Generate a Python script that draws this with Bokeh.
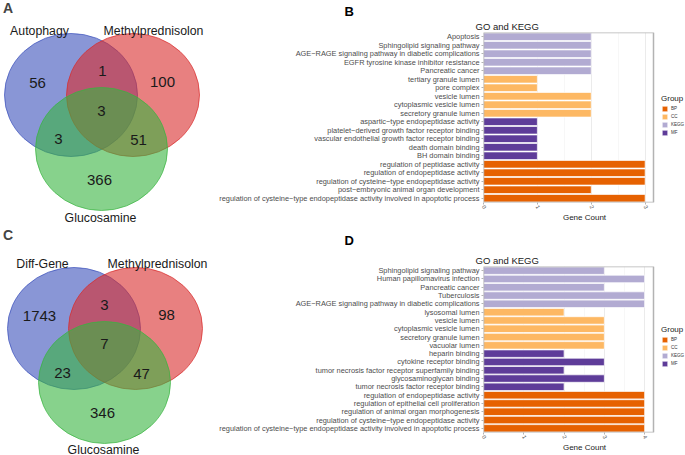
from jinja2 import Template
from bokeh.plotting import figure
from bokeh.models import (Range1d, FactorRange, Label, Legend, LegendItem,
                          FixedTicker, ColumnDataSource, Title)
from bokeh.embed import file_html
from bokeh.resources import INLINE
from bokeh.core.templates import FILE

# ---------------- data ----------------
venn_a_names = ["Autophagy", "Methylprednisolon", "Glucosamine"]
# order: set1 only, set1&set2, set2 only, all three, set1&set3, set2&set3, set3 only
venn_a_counts = [56, 1, 100, 3, 3, 51, 366]
venn_c_names = ["Diff-Gene", "Methylprednisolon", "Glucosamine"]
venn_c_counts = [1743, 3, 98, 7, 23, 47, 346]

group_names = ["BP", "CC", "KEGG", "MF"]
group_colors = ["#E66101", "#FDB863", "#B2ABD2", "#5E3C99"]

b_terms = ["Apoptosis", "Sphingolipid signaling pathway",
           "AGE\u2212RAGE signaling pathway in diabetic complications",
           "EGFR tyrosine kinase inhibitor resistance", "Pancreatic cancer",
           "tertiary granule lumen", "pore complex", "vesicle lumen",
           "cytoplasmic vesicle lumen", "secretory granule lumen",
           "aspartic\u2212type endopeptidase activity",
           "platelet\u2212derived growth factor receptor binding",
           "vascular endothelial growth factor receptor binding",
           "death domain binding", "BH domain binding",
           "regulation of peptidase activity",
           "regulation of endopeptidase activity",
           "regulation of cysteine\u2212type endopeptidase activity",
           "post\u2212embryonic animal organ development",
           "regulation of cysteine\u2212type endopeptidase activity involved in apoptotic process"]
b_groups = ["KEGG", "KEGG", "KEGG", "KEGG", "KEGG",
            "CC", "CC", "CC", "CC", "CC",
            "MF", "MF", "MF", "MF", "MF",
            "BP", "BP", "BP", "BP", "BP"]
b_counts = [2, 2, 2, 2, 2,
            1, 1, 2, 2, 2,
            1, 1, 1, 1, 1,
            3, 3, 3, 2, 3]
b_ticks = [0, 1, 2, 3]

d_terms = ["Sphingolipid signaling pathway", "Human papillomavirus infection",
           "Pancreatic cancer", "Tuberculosis",
           "AGE\u2212RAGE signaling pathway in diabetic complications",
           "lysosomal lumen", "vesicle lumen", "cytoplasmic vesicle lumen",
           "secretory granule lumen", "vacuolar lumen",
           "heparin binding", "cytokine receptor binding",
           "tumor necrosis factor receptor superfamily binding",
           "glycosaminoglycan binding", "tumor necrosis factor receptor binding",
           "regulation of endopeptidase activity",
           "regulation of epithelial cell proliferation",
           "regulation of animal organ morphogenesis",
           "regulation of cysteine\u2212type endopeptidase activity",
           "regulation of cysteine\u2212type endopeptidase activity involved in apoptotic process"]
d_groups = ["KEGG", "KEGG", "KEGG", "KEGG", "KEGG",
            "CC", "CC", "CC", "CC", "CC",
            "MF", "MF", "MF", "MF", "MF",
            "BP", "BP", "BP", "BP", "BP"]
d_counts = [3, 4, 3, 4, 4,
            2, 3, 3, 3, 3,
            2, 3, 2, 3, 2,
            4, 4, 4, 4, 4]
d_ticks = [0, 1, 2, 3, 4]

# ---------------- layout constants ----------------
FONT = "Liberation Sans"
LEFT_W, RIGHT_W = 215, 470
TOP_H, BOT_H = 225, 230
PANEL_W, AREA_W = 170, 202   # bar panel width and panel+legend area width (px)

venn_fill = ["#3A50BB", "#D92B2B", "#37B43F"]


def venn(names, counts, letter, height, geo, name_pos, count_pos, letter_pos):
    p = figure(width=LEFT_W, height=height, x_range=Range1d(0, LEFT_W),
               y_range=Range1d(height, 0), output_backend="svg",
               toolbar_location=None, x_axis_location=None, y_axis_location=None,
               min_border=0)
    p.grid.visible = False
    p.outline_line_color = None
    for (cx, cy, w, h), col in zip(geo, venn_fill):
        p.ellipse(x=cx, y=cy, width=w, height=h, fill_color=col,
                  fill_alpha=0.6, line_color=col, line_alpha=0.7, line_width=1)
    src_n = ColumnDataSource(dict(x=[q[0] for q in name_pos],
                                  y=[q[1] for q in name_pos], t=names))
    p.text(x="x", y="y", text="t", source=src_n, text_align="center",
           text_baseline="middle", text_font={"value": FONT},
           text_font_size="12.3px", text_color="#1A1A1A")
    src_c = ColumnDataSource(dict(x=[q[0] for q in count_pos],
                                  y=[q[1] for q in count_pos],
                                  t=[str(c) for c in counts]))
    p.text(x="x", y="y", text="t", source=src_c, text_align="center",
           text_baseline="middle", text_font={"value": FONT},
           text_font_size="15px", text_color="#1A1A1A")
    p.add_layout(Label(x=letter_pos[0], y=letter_pos[1], text=letter,
                       text_font=FONT, text_font_size="14px",
                       text_font_style="bold", text_align="center",
                       text_baseline="middle"))
    return p


def bars(terms, grps, counts, ticks, xmax, letter, height, top_b, bottom_b,
         letter_standoff, legend_xy):
    factors = list(reversed(terms))
    x_end = xmax * AREA_W / PANEL_W
    p = figure(width=RIGHT_W, height=height, y_range=FactorRange(factors=factors),
               x_range=Range1d(0, x_end), output_backend="svg",
               toolbar_location=None, min_border_left=268, min_border_right=0,
               min_border_top=top_b, min_border_bottom=bottom_b)
    items = []
    for g, col in zip(group_names, group_colors):
        ys = [t for t, gg in zip(terms, grps) if gg == g]
        vs = [v for v, gg in zip(counts, grps) if gg == g]
        r = p.hbar(y=ys, right=vs, left=0, height=0.9, fill_color=col,
                   line_color="white", line_width=0.7)
        items.append(LegendItem(label=g, renderers=[r]))
    # panel border (ggplot-style), spanning the data panel only
    p.quad(left=0, right=xmax, bottom=0, top=len(terms), fill_color=None,
           line_color="#B3B3B3", line_width=1.5)
    leg = Legend(items=items, title="Group", location=legend_xy,
                 title_text_font=FONT, title_text_font_size="8px",
                 title_text_font_style="normal", title_text_color="#1A1A1A",
                 label_text_font=FONT, label_text_font_size="4.5px",
                 label_text_color="#333333",
                 glyph_width=7, glyph_height=7, label_height=7, label_width=10,
                 spacing=1, padding=0, margin=0, label_standoff=3,
                 title_standoff=2, border_line_color=None,
                 background_fill_alpha=0)
    p.add_layout(leg)

    # outer title: the panel letter
    p.title.text = letter
    p.title.text_font = FONT
    p.title.text_font_size = "13px"
    p.title.text_font_style = "bold"
    p.title.text_color = "black"
    p.title.align = "left"
    p.title.offset = -139
    p.title.standoff = letter_standoff
    # inner title, next to the panel
    p.add_layout(Title(text="GO and KEGG", align="left", offset=-8,
                       text_font=FONT, text_font_size="9.5px",
                       text_font_style="normal", text_color="#1A1A1A",
                       standoff=1), "above")

    p.outline_line_color = None
    p.xgrid.ticker = FixedTicker(ticks=ticks,
                                 minor_ticks=[t + 0.5 for t in ticks[:-1]])
    p.xgrid.grid_line_color = "#DEDEDE"
    p.xgrid.grid_line_width = 0.6
    p.xgrid.minor_grid_line_color = "#EFEFEF"
    p.xgrid.minor_grid_line_width = 0.5
    p.ygrid.visible = False

    p.xaxis.ticker = FixedTicker(ticks=ticks)
    p.xaxis.axis_label = "Gene Count"
    p.xaxis.axis_label_text_font = FONT
    p.xaxis.axis_label_text_font_size = "8px"
    p.xaxis.axis_label_text_font_style = "normal"
    p.xaxis.axis_label_text_color = "#1A1A1A"
    p.xaxis.axis_label_standoff = 0
    p.xaxis.major_label_orientation = -1.1
    p.xaxis.major_label_text_font_size = "5.5px"
    p.xaxis.major_label_standoff = 1
    p.xaxis.minor_tick_line_color = None

    for ax in (p.xaxis[0], p.yaxis[0]):
        ax.axis_line_color = None
        ax.major_tick_line_color = "#B3B3B3"
        ax.major_tick_in = 0
        ax.major_tick_out = 2
        ax.major_label_text_color = "#4D4D4D"
        ax.major_label_text_font = FONT
    p.yaxis.major_label_text_font_size = "7.4px"
    p.yaxis.major_label_standoff = 2
    return p


geo_a = [(70.5, 94.5, 133, 123), (132.5, 94.5, 133, 123), (101, 148.5, 132, 123)]
geo_c = [(73.5, 103, 133, 122), (135, 103, 134, 122), (104, 157, 132, 122)]

pa = venn(venn_a_names, venn_a_counts, "A", TOP_H, geo_a,
          [(39, 30), (153, 30), (100, 217)],
          [(37, 82), (102, 70), (162, 81), (101, 110), (58, 138), (138, 139), (99, 179)],
          (7.5, 7.5))
pc = venn(venn_c_names, venn_c_counts, "C", BOT_H, geo_c,
          [(42, 38), (157, 38), (103, 224)],
          [(39, 90), (104, 79), (166, 89), (104, 118), (62, 147), (141, 148), (102, 187)],
          (7.5, 9))

pb = bars(b_terms, b_groups, b_counts, b_ticks, 3.155, "B", TOP_H, 32, 21, 0,
          (178, 66))
pd_ = bars(d_terms, d_groups, d_counts, d_ticks, 4.22, "D", BOT_H, 41, 18, 9,
           (178, 65))

page = Template("""{% extends mybase %}
{% block postamble %}
<style>
body { display: grid !important; grid-template-columns: 215px 470px;
       grid-template-rows: 225px 230px; align-content: start;
       justify-content: start; }
</style>
{% endblock %}
""")

open("out.html", "w").write(file_html([pa, pb, pc, pd_], INLINE, template=page,
                                      template_variables={"mybase": FILE}))
